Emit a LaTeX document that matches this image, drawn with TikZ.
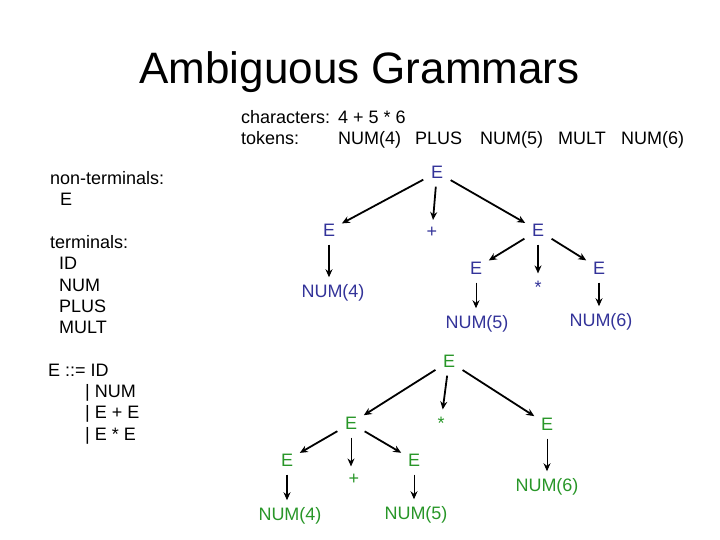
\documentclass[tikz,border=0pt]{standalone}
\usepackage{fontspec}
\setmainfont{Liberation Sans}
\usetikzlibrary{arrows.meta}
\definecolor{tblue}{RGB}{51,51,153}
\definecolor{tgreen}{RGB}{40,150,40}
\begin{document}
\begin{tikzpicture}[x=1pt,y=-1pt,
  txt/.style={font=\fontsize{18}{21}\selectfont, inner sep=0pt, anchor=base west},
  ttl/.style={font=\fontsize{44}{50}\selectfont, inner sep=0pt, anchor=base},
  tn/.style={font=\fontsize{18}{21}\selectfont, anchor=base, inner xsep=4pt, inner ysep=4pt},
  bt/.style={tn, text=tblue},
  gt/.style={tn, text=tgreen},
  arr/.style={-{Stealth[length=8pt,width=7pt]}, line width=1.8pt, shorten <=4pt, shorten >=3pt},
  tarr/.style={arr, line width=1pt}]
\useasboundingbox (0,0) rectangle (720,540);
% title
\node[ttl] (title) at (359.5,84) {Ambiguous Grammars};
% header
\node[txt] (chars) at (241,124) {characters:};
\node[txt] (charsv) at (338,124) {4 + 5 * 6};
\node[txt] (toks) at (241,145) {tokens:};
\node[txt] (t1) at (338,145) {NUM(4)};
\node[txt] (t2) at (415,145) {PLUS};
\node[txt] (t3) at (480,145) {NUM(5)};
\node[txt] (t4) at (558,145) {MULT};
\node[txt] (t5) at (621,145) {NUM(6)};
% left column
\node[txt] (nt) at (50,184.5) {non-terminals:};
\node[txt] (ntE) at (60,205.8) {E};
\node[txt] (term) at (50,248.4) {terminals:};
\node[txt] (tID) at (59,269.7) {ID};
\node[txt] (tNUM) at (59,291) {NUM};
\node[txt] (tPLUS) at (59,312.3) {PLUS};
\node[txt] (tMULT) at (59,333.6) {MULT};
\node[txt] (g1) at (48,376.2) {E ::= ID};
\node[txt] (g2) at (85,397.5) {| NUM};
\node[txt] (g3) at (85,418.8) {| E + E};
\node[txt] (g4) at (85,440.1) {| E * E};
% tree 1
\node[bt] (A0) at (437,178.5) {E};
\node[bt] (A1) at (329,236.5) {E};
\node[bt] (Ap) at (432,237.5) {+};
\node[bt] (A2) at (538,236.5) {E};
\node[bt] (A3) at (476,274.5) {E};
\node[bt] (As) at (538,293) {*};
\node[bt] (A4) at (599,274.5) {E};
\node[bt] (AN4) at (333,297.5) {NUM(4)};
\node[bt] (AN5) at (477,328.5) {NUM(5)};
\node[bt] (AN6) at (601,326.5) {NUM(6)};
\draw[arr] (A0) -- (A1);
\draw[arr] (A0) -- (Ap);
\draw[arr] (A0) -- (A2);
\draw[arr] (A1) -- (A1 |- AN4.north);
\draw[arr] (A2) -- (A3);
\draw[arr, line width=1.4pt] (A2) -- (A2 |- As.north);
\draw[arr] (A2) -- (A4);
\draw[tarr] (A3) -- (A3 |- AN5.north);
\draw[arr] (A4) -- (A4 |- AN6.north);
% tree 2
\node[gt] (B0) at (449,367.5) {E};
\node[gt] (B1) at (351,429.5) {E};
\node[gt] (Bs) at (441,429) {*};
\node[gt] (B2) at (547,430.5) {E};
\node[gt] (B3) at (287,466.5) {E};
\node[gt] (Bp) at (354,484) {+};
\node[gt] (B4) at (414,466.5) {E};
\node[gt] (BN4) at (290,520.5) {NUM(4)};
\node[gt] (BN5) at (416,519.5) {NUM(5)};
\node[gt] (BN6) at (547,491.5) {NUM(6)};
\draw[arr] (B0) -- (B1);
\draw[arr] (B0) -- (Bs);
\draw[arr] (B0) -- (B2);
\draw[arr] (B1) -- (B3);
\draw[tarr] (B1) -- (B1 |- Bp.north);
\draw[arr] (B1) -- (B4);
\draw[arr] (B3) -- (B3 |- BN4.north);
\draw[tarr] (B4) -- (B4 |- BN5.north);
\draw[tarr] (B2) -- (B2 |- BN6.north);
\end{tikzpicture}
\end{document}
